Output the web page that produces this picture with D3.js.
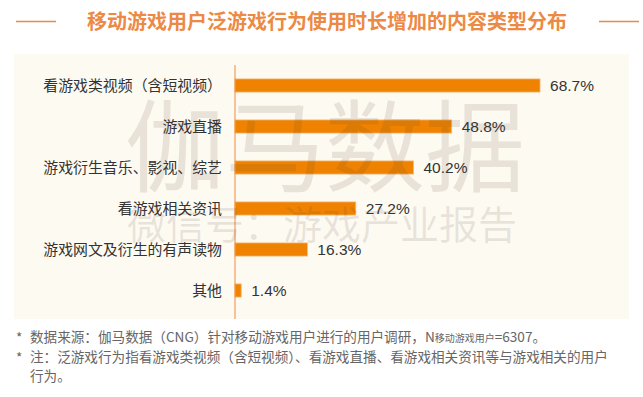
<!DOCTYPE html>
<html>
<head>
<meta charset="utf-8">
<script src="https://cdn.jsdelivr.net/npm/d3@7"></script>
<style>
  body { margin: 0; background: #fff; }
  svg { display: block; font-family: "Noto Sans CJK SC", sans-serif; }
</style>
</head>
<body>
<div id="chart"></div>
<script>
var categories = ["看游戏类视频（含短视频）", "游戏直播", "游戏衍生音乐、影视、综艺", "看游戏相关资讯", "游戏网文及衍生的有声读物", "其他"];
var values = [68.7, 48.8, 40.2, 27.2, 16.3, 1.4];
var title = "移动游戏用户泛游戏行为使用时长增加的内容类型分布";

var width = 643, height = 397;

var svg = d3.select("#chart").append("svg")
    .attr("width", width)
    .attr("height", height);

// panel background
svg.append("rect")
    .attr("x", 14).attr("y", 54)
    .attr("width", 615).attr("height", 265)
    .attr("fill", "#fdfaf2");

// title with side lines
svg.append("text")
    .attr("x", 327).attr("y", 28.5)
    .attr("text-anchor", "middle")
    .attr("font-size", 20).attr("font-weight", "bold")
    .attr("fill", "#ec8a45")
    .text(title);
svg.append("line").attr("x1", 16).attr("x2", 56).attr("y1", 21.5).attr("y2", 21.5)
    .attr("stroke", "#ec8a45").attr("stroke-width", 1.5);
svg.append("line").attr("x1", 599).attr("x2", 639).attr("y1", 21.5).attr("y2", 21.5)
    .attr("stroke", "#ec8a45").attr("stroke-width", 1.5);

var x = d3.scaleLinear().domain([0, 100]).range([235, 235 + 444]);
var y = d3.scaleBand().domain(categories).range([65, 311]).paddingInner(0.68).paddingOuter(0.34);

var g = svg.append("g");

g.selectAll(".bar")
    .data(values)
    .enter().append("rect")
    .attr("class", "bar")
    .attr("x", x(0))
    .attr("y", function (d, i) { return y(categories[i]); })
    .attr("width", function (d) { return x(d) - x(0); })
    .attr("height", y.bandwidth())
    .attr("fill", "#ef8200")
    .attr("stroke", "#f6b774")
    .attr("stroke-width", 0.8);

g.selectAll(".val")
    .data(values)
    .enter().append("text")
    .attr("class", "val")
    .attr("x", function (d) { return x(d) + 10; })
    .attr("y", function (d, i) { return y(categories[i]) + y.bandwidth() / 2; })
    .attr("dy", "0.36em")
    .attr("font-size", 15.5)
    .attr("font-family", "Liberation Sans, Arial, sans-serif")
    .attr("fill", "#333")
    .text(function (d) { return d.toFixed(1) + "%"; });

g.selectAll(".cat")
    .data(categories)
    .enter().append("text")
    .attr("class", "cat")
    .attr("x", 222)
    .attr("y", function (d) { return y(d) + y.bandwidth() / 2; })
    .attr("dy", "0.36em")
    .attr("text-anchor", "end")
    .attr("font-size", 14.9)
    .attr("fill", "#333")
    .text(function (d) { return d; });

// axis line
svg.append("line")
    .attr("x1", x(0)).attr("x2", x(0))
    .attr("y1", 65).attr("y2", 319)
    .attr("stroke", "#ef8a3a").attr("stroke-width", 1);

// watermark
var wm = svg.append("g").attr("fill", "rgba(90,70,50,0.13)").attr("text-anchor", "middle");
wm.append("text").attr("x", 325).attr("y", 184)
    .attr("font-size", 100).text("伽马数据");
wm.append("text").attr("x", 322).attr("y", 239)
    .attr("font-size", 39).text("微信号：游戏产业报告");

// footnotes
var notes = svg.append("g").attr("font-size", 13.6).attr("fill", "#666");
notes.append("text").attr("x", 16).attr("y", 343).text("*");
notes.append("text").attr("x", 16).attr("y", 362.5).text("*");
var n1 = notes.append("text").attr("x", 30).attr("y", 342);
n1.append("tspan").text("数据来源：伽马数据（CNG）针对移动游戏用户进行的用户调研，N");
n1.append("tspan").attr("font-size", 10).text("移动游戏用户");
n1.append("tspan").text("=6307。");
notes.append("text").attr("x", 30).attr("y", 361.5)
    .text("注：泛游戏行为指看游戏类视频（含短视频）、看游戏直播、看游戏相关资讯等与游戏相关的用户");
notes.append("text").attr("x", 30).attr("y", 381).text("行为。");
</script>
</body>
</html>
